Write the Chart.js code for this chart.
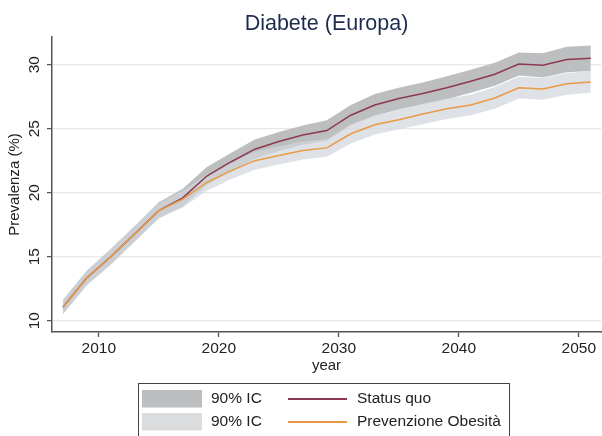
<!DOCTYPE html>
<html>
<head>
<meta charset="utf-8">
<script src="https://cdn.jsdelivr.net/npm/chart.js@4.4.0/dist/chart.umd.min.js"></script>
<style>
  html, body { margin: 0; padding: 0; background: #fff; }
</style>
</head>
<body>
<canvas id="diabChart" width="602" height="436"></canvas>
<script>
const years = [2007, 2009, 2011, 2013, 2015, 2017, 2019, 2021, 2023, 2025, 2027, 2029,
               2031, 2033, 2035, 2037, 2039, 2041, 2043, 2045, 2047, 2049, 2051];

// Status quo (%)
const statusQuo     = [11.05, 13.35, 15.0, 16.8, 18.6, 19.6, 21.3, 22.4, 23.4, 24.0, 24.5, 24.85,
                       26.05, 26.85, 27.35, 27.75, 28.2, 28.7, 29.25, 30.05, 29.95, 30.4, 30.5];
const statusQuoLow  = [10.5, 12.8, 14.4, 16.2, 18.0, 18.95, 20.6, 21.7, 22.65, 23.25, 23.75, 24.05,
                       25.25, 26.0, 26.5, 26.9, 27.3, 27.8, 28.35, 29.15, 29.0, 29.4, 29.5];
const statusQuoHigh = [11.6, 13.9, 15.6, 17.4, 19.25, 20.3, 22.0, 23.1, 24.15, 24.75, 25.25, 25.65,
                       26.85, 27.7, 28.2, 28.6, 29.1, 29.6, 30.15, 30.95, 30.9, 31.4, 31.5];

// Prevenzione Obesità (%)
const prevObesita     = [11.05, 13.35, 15.0, 16.8, 18.6, 19.5, 20.8, 21.7, 22.5, 22.9, 23.3, 23.5,
                         24.6, 25.3, 25.7, 26.15, 26.55, 26.85, 27.4, 28.2, 28.1, 28.5, 28.65];
const prevObesitaLow  = [10.5, 12.8, 14.4, 16.2, 18.0, 18.85, 20.15, 21.05, 21.8, 22.2, 22.6, 22.8,
                         23.85, 24.55, 24.95, 25.35, 25.75, 26.05, 26.55, 27.35, 27.25, 27.65, 27.8];
const prevObesitaHigh = [11.6, 13.9, 15.6, 17.4, 19.2, 20.15, 21.45, 22.35, 23.2, 23.6, 24.0, 24.2,
                         25.35, 26.05, 26.45, 26.95, 27.35, 27.65, 28.25, 29.05, 28.95, 29.35, 29.5];

const xTicks = [2010, 2020, 2030, 2040, 2050];
const yTicks = [10, 15, 20, 25, 30];
const bandLabels = ['90% IC', '90% IC'];
const lineLabels = ['Status quo', 'Prevenzione Obesità'];

const FONT = "'Liberation Sans', Arial, Helvetica, sans-serif";
const darkBand = '#bcbec0';
const lightBand = 'rgba(209, 213, 219, 0.72)';
const redLine = '#8c3a50';
const orangeLine = '#e99a45';
const axisColor = '#555';

const pts = (ys) => years.map((x, i) => ({ x: x, y: ys[i] }));

function band(ys, fill, color, order) {
    return {
        data: pts(ys),
        fill: fill,
        backgroundColor: color,
        borderColor: 'rgba(0,0,0,0)',
        pointRadius: 0,
        tension: 0,
        order: order
    };
}

// legend box under the plot (2 rows: band swatch + line)
const legendBox = {
    id: 'legendBox',
    afterDraw(chart) {
        const ctx = chart.ctx;
        const area = chart.chartArea;
        const cx = (area.left + area.right) / 2 - 3;
        const left = cx - 185.5;
        const top = 383;
        ctx.save();
        ctx.fillStyle = '#fff';
        ctx.fillRect(left, top, 371, 60);
        ctx.strokeStyle = '#444';
        ctx.lineWidth = 1;
        ctx.strokeRect(left + 0.5, top + 0.5, 371, 60);

        const swatches = [darkBand, '#dadcde'];
        const lines = [redLine, orangeLine];
        ctx.font = '15.5px ' + FONT;
        ctx.textBaseline = 'middle';
        for (let i = 0; i < 2; i++) {
            const rowY = 399 + i * 23;
            ctx.fillStyle = swatches[i];
            ctx.fillRect(left + 4, rowY - 9, 60, 17.5);
            ctx.fillStyle = '#222';
            ctx.textAlign = 'left';
            ctx.fillText(bandLabels[i], left + 73, rowY);
            ctx.strokeStyle = lines[i];
            ctx.lineWidth = 2;
            ctx.beginPath();
            ctx.moveTo(left + 150, rowY);
            ctx.lineTo(left + 209, rowY);
            ctx.stroke();
            ctx.fillText(lineLabels[i], left + 219, rowY);
        }
        ctx.restore();
    }
};

const ctx = document.getElementById('diabChart').getContext('2d');

const diabChart = new Chart(ctx, {
    type: 'line',
    data: {
        datasets: [
            band(statusQuoHigh, '+1', darkBand, 4),
            band(statusQuoLow, false, darkBand, 4),
            band(prevObesitaHigh, '+1', lightBand, 3),
            band(prevObesitaLow, false, lightBand, 3),
            {
                label: lineLabels[0],
                data: pts(statusQuo),
                borderColor: redLine,
                borderWidth: 1.5,
                pointRadius: 0,
                fill: false,
                tension: 0,
                order: 2
            },
            {
                label: lineLabels[1],
                data: pts(prevObesita),
                borderColor: orangeLine,
                borderWidth: 1.5,
                pointRadius: 0,
                fill: false,
                tension: 0,
                order: 1
            }
        ]
    },
    options: {
        responsive: false,
        animation: false,
        layout: {
            padding: { left: 0, right: 1, top: 0, bottom: 59 }
        },
        plugins: {
            legend: { display: false },
            tooltip: { enabled: false },
            title: {
                display: true,
                text: 'Diabete (Europa)',
                color: '#1d2b4f',
                fullSize: false,
                font: { family: FONT, size: 21.5, weight: 'normal', lineHeight: 1 },
                padding: { top: 13, bottom: 2.5 }
            }
        },
        scales: {
            x: {
                type: 'linear',
                min: 2006.1,
                max: 2051.85,
                afterBuildTicks: (scale) => { scale.ticks = xTicks.map(v => ({ value: v })); },
                afterFit: (scale) => { scale.height = 45; },
                ticks: {
                    color: '#222',
                    font: { family: FONT, size: 15.5 },
                    padding: 2,
                    maxRotation: 0,
                    callback: (v) => String(v)
                },
                grid: {
                    drawOnChartArea: false,
                    tickLength: 5,
                    tickColor: axisColor,
                    tickWidth: 1.3
                },
                border: { color: axisColor, width: 1.5 },
                title: {
                    display: true,
                    text: 'year',
                    color: '#222',
                    font: { family: FONT, size: 15 },
                    padding: { top: 0, bottom: 2 }
                }
            },
            y: {
                min: 9.12,
                max: 32.16,
                afterBuildTicks: (scale) => { scale.ticks = yTicks.map(v => ({ value: v })); },
                afterFit: (scale) => { scale.width = 52; },
                ticks: {
                    color: '#222',
                    font: { family: FONT, size: 15.5 },
                    padding: 4,
                    minRotation: 90,
                    maxRotation: 90,
                    crossAlign: 'center',
                    callback: (v) => String(v)
                },
                grid: {
                    color: '#e8e8e8',
                    lineWidth: 1.2,
                    tickLength: 5,
                    tickColor: axisColor,
                    tickWidth: 1.3
                },
                border: { color: axisColor, width: 1.5 },
                title: {
                    display: true,
                    text: 'Prevalenza (%)',
                    color: '#222',
                    font: { family: FONT, size: 15 },
                    padding: { top: 6, bottom: 0 }
                }
            }
        }
    },
    plugins: [legendBox]
});
</script>
</body>
</html>
